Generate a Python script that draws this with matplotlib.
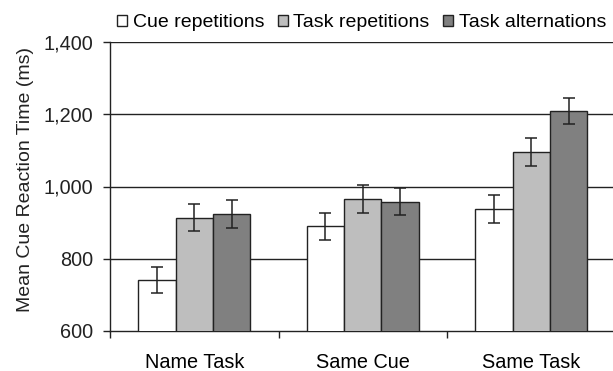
import numpy as np
import matplotlib
matplotlib.use("Agg")
from matplotlib import pyplot as plt

plt.rcParams['font.family'] = ['Liberation Sans', 'DejaVu Sans']

conditions = ['Name Task', 'Same Cue', 'Same Task']
series = ['Cue repetitions', 'Task repetitions', 'Task alternations']
cue_rep = [741, 890, 938]
task_rep = [914, 965, 1096]
task_alt = [924, 958, 1209]
cue_rep_err = [37, 38, 38]
task_rep_err = [38, 38, 39]
task_alt_err = [38, 38, 36]

values = [cue_rep, task_rep, task_alt]
errors = [cue_rep_err, task_rep_err, task_alt_err]
colors = ['#ffffff', '#bebebe', '#808080']

fig = plt.figure(figsize=(6.13, 3.71), dpi=100)
ax = fig.add_axes([110 / 613, 40 / 371, 505.5 / 613, 289 / 371])

centers = np.arange(len(conditions)) + 0.5
w = 0.222
for i in range(3):
    ax.bar(centers + (i - 1) * w, values[i], w, bottom=0, color=colors[i],
           edgecolor='#222222', linewidth=1.0, label=series[i], zorder=3)
    ax.errorbar(centers + (i - 1) * w, values[i], yerr=errors[i], fmt='none',
                ecolor='#222222', elinewidth=1.1, capsize=4, capthick=1.1, zorder=4)

for y in [800, 1000, 1200, 1400]:
    ax.axhline(y, color='#222222', linewidth=1.0, zorder=1)

ax.set_ylim(600, 1400)
ax.set_xlim(0, 3)
ax.set_yticks([600, 800, 1000, 1200, 1400])
ax.set_yticklabels(['600', '800', '1,000', '1,200', '1,400'])
ax.set_xticks([0, 1, 2, 3])
ax.set_xticklabels([])
ax.set_xticks(centers, minor=True)
ax.set_xticklabels(conditions, minor=True)
ax.tick_params(axis='x', which='minor', length=0, pad=16, labelsize=14.3)
ax.tick_params(axis='x', which='major', length=5, width=1, color='#222222')
ax.tick_params(axis='y', length=5, width=1, color='#222222', pad=7, labelsize=14.3, labelcolor='#222222')
ax.tick_params(axis='x', labelcolor='#222222')
for s in ['top', 'right']:
    ax.spines[s].set_visible(False)
for s in ['left', 'bottom']:
    ax.spines[s].set_color('#222222')
    ax.spines[s].set_linewidth(1.0)
ax.set_ylabel('Mean Cue Reaction Time (ms)', fontsize=14, color='#222222', labelpad=7, y=0.525)

ax.legend(loc='lower right', bbox_to_anchor=(0.997, 1.01), ncol=3, frameon=False,
          fontsize=14, handlelength=0.5, handleheight=0.5, handletextpad=0.3,
          columnspacing=0.7, borderaxespad=0.2, borderpad=0.2)

fig.savefig('out.png', dpi=100)
